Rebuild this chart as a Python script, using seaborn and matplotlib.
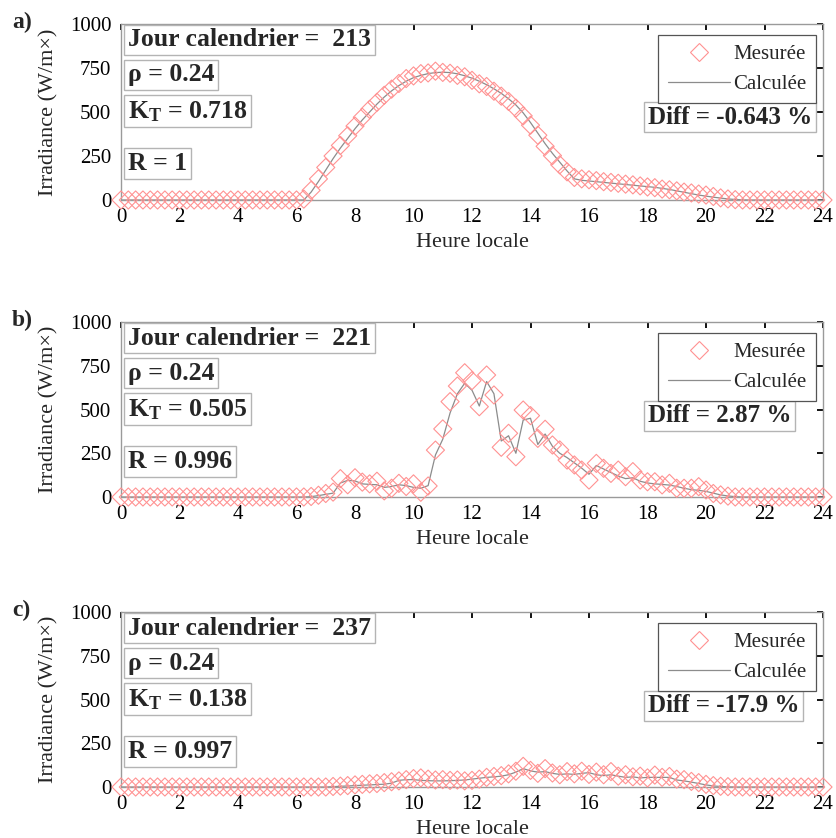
import numpy as np
import pandas as pd
import matplotlib
matplotlib.use("Agg")
import matplotlib.pyplot as plt
from matplotlib.lines import Line2D
import seaborn as sns

# 15-minute time stamps over the day (hours)
hours = np.linspace(0, 24, 97)

# ---- day 213 (clear sky) ----
meas_a = [0, 0, 0, 0, 0, 0, 0, 0, 0, 0, 0, 0, 0, 0, 0, 0, 0, 0, 0, 0, 0, 0, 0, 0, 0,
          5, 55, 120, 185, 250, 310, 365, 420, 470, 515, 555, 595, 630, 662, 690, 705,
          718, 722, 732, 725, 720, 708, 700, 680, 660, 645, 618, 590, 560, 522, 478,
          425, 368, 305, 252, 200, 160, 128, 120, 115, 110, 104, 100, 95, 90, 86, 80,
          74, 70, 62, 58, 52, 45, 40, 34, 28, 20, 12, 6, 2, 0, 0, 0, 0, 0, 0, 0, 0, 0,
          0, 0, 0]
calc_a = [0, 0, 0, 0, 0, 0, 0, 0, 0, 0, 0, 0, 0, 0, 0, 0, 0, 0, 0, 0, 0, 0, 0, 0, 0,
          0, 45, 105, 170, 235, 295, 350, 405, 455, 500, 545, 585, 620, 650, 675, 695,
          708, 718, 724, 726, 724, 717, 706, 692, 675, 655, 632, 606, 575, 540, 495,
          440, 380, 320, 265, 215, 165, 120, 112, 108, 104, 100, 96, 92, 88, 84, 80,
          76, 72, 66, 60, 52, 44, 36, 28, 22, 16, 11, 6, 3, 1, 0, 0, 0, 0, 0, 0, 0, 0,
          0, 0, 0]

# ---- day 221 (broken clouds) ----
meas_b = [0, 0, 0, 0, 0, 0, 0, 0, 0, 0, 0, 0, 0, 0, 0, 0, 0, 0, 0, 0, 0, 0, 0, 0, 0,
          0, 3, 10, 20, 28, 105, 70, 110, 85, 75, 90, 35, 50, 78, 60, 75, 27, 63, 268,
          389, 545, 634, 710, 665, 516, 697, 583, 284, 364, 230, 497, 465, 335, 387,
          297, 269, 211, 183, 154, 97, 192, 164, 135, 154, 116, 145, 97, 87, 87, 69,
          78, 50, 50, 50, 59, 40, 20, 12, 5, 0, 0, 0, 0, 0, 0, 0, 0, 0, 0, 0, 0, 0]
calc_b = [0, 0, 0, 0, 0, 0, 0, 0, 0, 0, 0, 0, 0, 0, 0, 0, 0, 0, 0, 0, 0, 0, 0, 0, 0,
          0, 2, 8, 15, 22, 80, 95, 92, 75, 72, 70, 55, 60, 70, 65, 55, 50, 65, 240,
          330, 480, 590, 650, 610, 520, 660, 590, 320, 350, 250, 440, 450, 300, 360,
          290, 250, 225, 195, 165, 130, 180, 160, 140, 120, 105, 110, 90, 80, 75, 72,
          68, 60, 50, 42, 38, 32, 22, 12, 6, 2, 0, 0, 0, 0, 0, 0, 0, 0, 0, 0, 0, 0]

# ---- day 237 (overcast) ----
meas_c = [0, 0, 0, 0, 0, 0, 0, 0, 0, 0, 0, 0, 0, 0, 0, 0, 0, 0, 0, 0, 0, 0, 0, 0, 0,
          0, 0, 0, 0, 3, 5, 8, 12, 15, 18, 20, 25, 30, 35, 42, 48, 52, 45, 40, 42, 38,
          40, 35, 38, 45, 55, 60, 65, 75, 90, 118, 95, 78, 105, 80, 70, 88, 75, 90, 72,
          85, 70, 88, 62, 70, 58, 62, 52, 68, 55, 60, 45, 42, 32, 25, 15, 8, 4, 2, 0,
          0, 0, 0, 0, 0, 0, 0, 0, 0, 0, 0, 0]
calc_c = [0, 0, 0, 0, 0, 0, 0, 0, 0, 0, 0, 0, 0, 0, 0, 0, 0, 0, 0, 0, 0, 0, 0, 0, 0,
          0, 0, 0, 0, 2, 4, 6, 8, 10, 12, 14, 16, 22, 38, 42, 42, 38, 36, 35, 35, 36,
          38, 40, 45, 50, 55, 58, 62, 70, 85, 105, 92, 85, 88, 78, 72, 75, 72, 78, 82,
          70, 65, 70, 62, 55, 58, 52, 55, 55, 55, 55, 40, 35, 28, 20, 12, 6, 3, 1, 0,
          0, 0, 0, 0, 0, 0, 0, 0, 0, 0, 0, 0]

measured = [meas_a, meas_b, meas_c]
computed = [calc_a, calc_b, calc_c]

panel_tags = ["a)", "b)", "c)"]
days = ["213", "221", "237"]
albedo = ["0.24", "0.24", "0.24"]
kt_vals = ["0.718", "0.505", "0.138"]
r_vals = ["1", "0.996", "0.997"]
diff_vals = ["-0.643", "2.87", "-17.9"]

x_ticks = [0, 2, 4, 6, 8, 10, 12, 14, 16, 18, 20, 22, 24]
y_ticks = [0, 250, 500, 750, 1000]

sns.set_style("white")
SERIF = "Liberation Serif"
plt.rcParams["font.family"] = [SERIF, "DejaVu Serif"]
plt.rcParams["mathtext.fontset"] = "custom"
plt.rcParams["mathtext.rm"] = SERIF
plt.rcParams["mathtext.it"] = SERIF + ":italic"
plt.rcParams["mathtext.bf"] = SERIF + ":bold"

MEAS_COLOR = "#ff9292"
CALC_COLOR = "#8c8c8c"
FRAME_COLOR = "#9a9a9a"
BOX_EDGE = "#b4b4b4"

W, H = 836, 838
fig = plt.figure(figsize=(W / 100, H / 100), dpi=100)
fig.patch.set_facecolor("white")

# axes placement in pixels: (left, top, width, height)
ax_rects = [(121, 24, 702, 176), (121, 322, 702, 175), (121, 612, 702, 175)]

box_style = dict(boxstyle="square,pad=0.14", fc="white", ec=BOX_EDGE, lw=1.0)

for i in range(3):
    l, t, w, h = ax_rects[i]
    ax = fig.add_axes([l / W, 1 - (t + h) / H, w / W, h / H])
    df = pd.DataFrame({"heure": hours, "mes": measured[i], "calc": computed[i]})

    sns.lineplot(data=df, x="heure", y="calc", ax=ax, color=CALC_COLOR,
                 linewidth=0.9, zorder=2)
    sns.scatterplot(data=df, x="heure", y="mes", ax=ax, marker="D", s=85,
                    facecolor="none", edgecolor=MEAS_COLOR, linewidth=0.8,
                    clip_on=False, zorder=3)

    ax.set_xlim(0, 24)
    ax.set_ylim(0, 1000)
    ax.set_xticks(x_ticks)
    ax.set_yticks(y_ticks)
    ax.set_xticklabels([str(v) for v in x_ticks])
    ax.set_yticklabels([str(v) for v in y_ticks])
    ax.tick_params(axis="both", direction="in", length=4, width=1.3,
                   color="black", labelsize=15, top=True, right=True,
                   labelcolor="black")
    ax.tick_params(axis="x", pad=6)
    ax.tick_params(axis="y", pad=7)
    for sp in ax.spines.values():
        sp.set_color(FRAME_COLOR)
        sp.set_linewidth(1.0)
        sp.set_visible(True)

    ax.set_xlabel("Heure locale", fontsize=16, labelpad=4)
    ax.set_ylabel("Irradiance (W/m\u00d7)", fontsize=16, labelpad=8)

    def yfrac(px_from_top):
        return 1 - px_from_top / h

    txt_kw = dict(transform=ax.transAxes, fontweight="bold",
                  ha="left", va="baseline", bbox=box_style, zorder=5)
    ax.text(0.01, yfrac(22.5), f"Jour calendrier =  {days[i]}", fontsize=18.5, **txt_kw)
    ax.text(0.01, yfrac(57.5), f"\u03c1 = {albedo[i]}", fontsize=18.5, **txt_kw)
    ax.text(0.01, yfrac(94), r"$\mathbf{K}_{\mathbf{T}}$" + f" = {kt_vals[i]}",
            fontsize=18.5, **txt_kw)
    ax.text(0.01, yfrac(146), f"R = {r_vals[i]}", fontsize=18.5, **txt_kw)
    ax.text(0.7507, yfrac(100), f"Diff = {diff_vals[i]} %", fontsize=18, **txt_kw)

    handles = [
        Line2D([], [], marker="D", linestyle="none", markerfacecolor="none",
               markeredgecolor=MEAS_COLOR, markeredgewidth=0.8, markersize=9.2),
        Line2D([], [], color=CALC_COLOR, linewidth=0.9),
    ]
    leg = ax.legend(handles, ["Mesurée", "Calculée"], loc="upper right",
                    bbox_to_anchor=(0.990, 1 - 11 / h), borderaxespad=0,
                    fontsize=15, frameon=True, fancybox=False, framealpha=1,
                    edgecolor="#555555", handlelength=3.0, handletextpad=0.15,
                    borderpad=0.45, labelspacing=0.5)
    leg.get_frame().set_linewidth(0.9)
    leg.set_zorder(6)

    fig.text(12 / W, 1 - (t + 4) / H, panel_tags[i], fontsize=17,
             fontweight="bold", ha="left", va="baseline")

fig.savefig("out.png", dpi=100, facecolor="white")
